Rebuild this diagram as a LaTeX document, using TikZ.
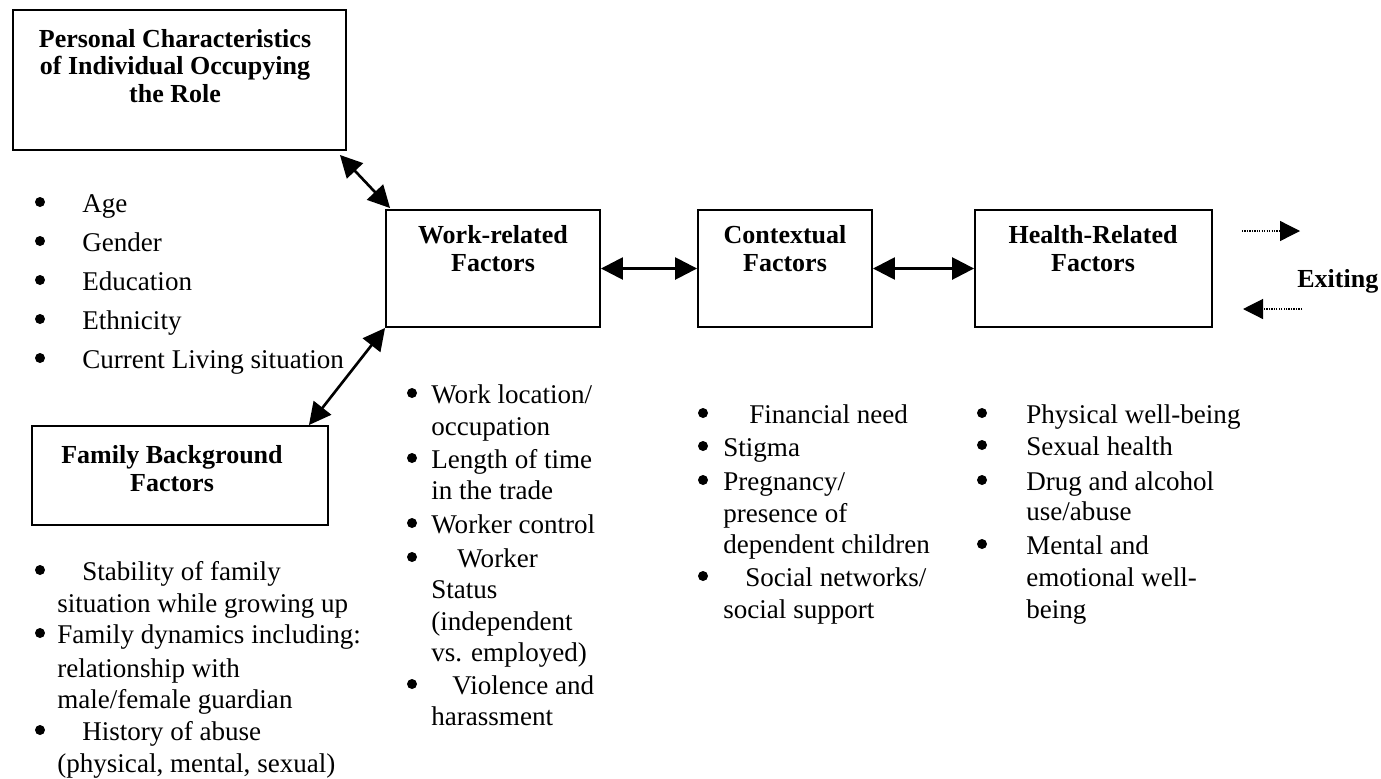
\documentclass[tikz,border=0pt]{standalone}
\usepackage{fontspec}
\setmainfont{Liberation Serif}
\usetikzlibrary{arrows.meta}
\tikzset{
  frame/.style={draw, line width=1.1pt, inner sep=0pt},
  title/.style={font=\fontsize{14.8}{15.6}\selectfont\bfseries, align=center, anchor=base, inner sep=0pt},
  item/.style={font=\fontsize{15.4}{18}\selectfont, anchor=base west, inner sep=0pt},
  dot/.style={circle, fill, inner sep=0pt, minimum size=0.2cm, yshift=0.2cm},
  link/.style={line width=1.5pt, {Triangle[length=0.44cm,width=0.44cm]}-{Triangle[length=0.44cm,width=0.44cm]}},
  exit/.style={line width=0.7pt, dash pattern=on 0.7pt off 0.7pt, -{Triangle[length=0.4cm,width=0.4cm]}}
}
\begin{document}
\begin{tikzpicture}[x=0.02cm, y=-0.02cm]
  \useasboundingbox (0,0) rectangle (1381,778);
  % boxes
  \node[frame, minimum width=6.66cm, minimum height=2.8cm] (pc) at (179.5,80) {};
  \node[frame, minimum width=4.28cm, minimum height=2.34cm] (wr) at (493,268.5) {};
  \node[frame, minimum width=3.48cm, minimum height=2.34cm] (cf) at (785,268.5) {};
  \node[frame, minimum width=4.74cm, minimum height=2.34cm] (hr) at (1093.5,268.5) {};
  \node[frame, minimum width=5.92cm, minimum height=1.98cm] (fb) at (180,475.5) {};
  % titles (base = last line)
  \node[title] (pc-t) at (175,102) {Personal Characteristics\\of Individual Occupying\\the Role};
  \node[title] (wr-t) at (493,271) {Work-related\\Factors};
  \node[title] (cf-t) at (785,271) {Contextual\\Factors};
  \node[title] (hr-t) at (1093,271) {Health-Related\\Factors};
  \node[title] (fb-t) at (172,491) {Family Background\\Factors};
  \node[title, anchor=base west] (ex) at (1297,287) {Exiting};
  % connectors
  \draw[link] ([shift={(-7,4)}]pc.south east) -- ([shift={(5,-1)}]wr.north west);
  \draw[link] (wr.south west) -- ([xshift=-0.4cm]fb.north east);
  \draw[link] (wr.east) -- (cf.west);
  \draw[link] (cf.east) -- (hr.west);
  \coordinate (o1) at (1242,231);
  \coordinate (o2) at (1300,231);
  \coordinate (i1) at (1302,309);
  \coordinate (i2) at (1243,309);
  \draw[exit] (o1) -- (o2);
  \draw[exit] (i1) -- (i2);
  % personal list
  \foreach \t [count=\i] in {Age, Gender, Education, Ethnicity, Current Living situation}{
    \node[dot] (pd\i) at (40,{173+39*\i}) {};
    \node[item] (pl\i) at (82,{173+39*\i}) {\t};
  }
  % work list
  \foreach \x/\y/\t [count=\i] in {431/403/{Work location/}, 431/435/occupation, 431/468/Length of time,
      431/499/in the trade, 431/533/Worker control, 457/567/Worker, 431/598/Status,
      431/630/(independent, 431/661/vs. employed), 452/694/Violence and, 431/725/harassment}
    \node[item] (wl\i) at (\x,\y) {\t};
  \foreach \y [count=\i] in {403,468,533,567,694}
    \node[dot] (wd\i) at (412,\y) {};
  % contextual list
  \foreach \x/\y/\t [count=\i] in {749/423/Financial need, 723/456/Stigma, 723/490/{Pregnancy/},
      723/522/presence of, 723/553/dependent children, 745/586/{Social networks/}, 723/618/social support}
    \node[item] (cl\i) at (\x,\y) {\t};
  \foreach \y [count=\i] in {423,456,490,586}
    \node[dot] (cd\i) at (703,\y) {};
  % health list
  \foreach \y/\t [count=\i] in {423/Physical well-being, 455/Sexual health, 490/Drug and alcohol,
      520/{use/abuse}, 554/Mental and, 586/emotional well-, 618/being}
    \node[item] (hl\i) at (1026,\y) {\t};
  \foreach \y [count=\i] in {423,455,490,554}
    \node[dot] (hd\i) at (982,\y) {};
  % family list
  \foreach \x/\y/\t [count=\i] in {82/580/Stability of family, 57/612/situation while growing up,
      57/643/Family dynamics including:, 57/677/relationship with, 57/708/{male/female guardian},
      82/740/History of abuse, 57/772/{(physical, mental, sexual)}}
    \node[item] (fl\i) at (\x,\y) {\t};
  \foreach \y [count=\i] in {580,643,740}
    \node[dot] (fd\i) at (40,\y) {};
\end{tikzpicture}
\end{document}
